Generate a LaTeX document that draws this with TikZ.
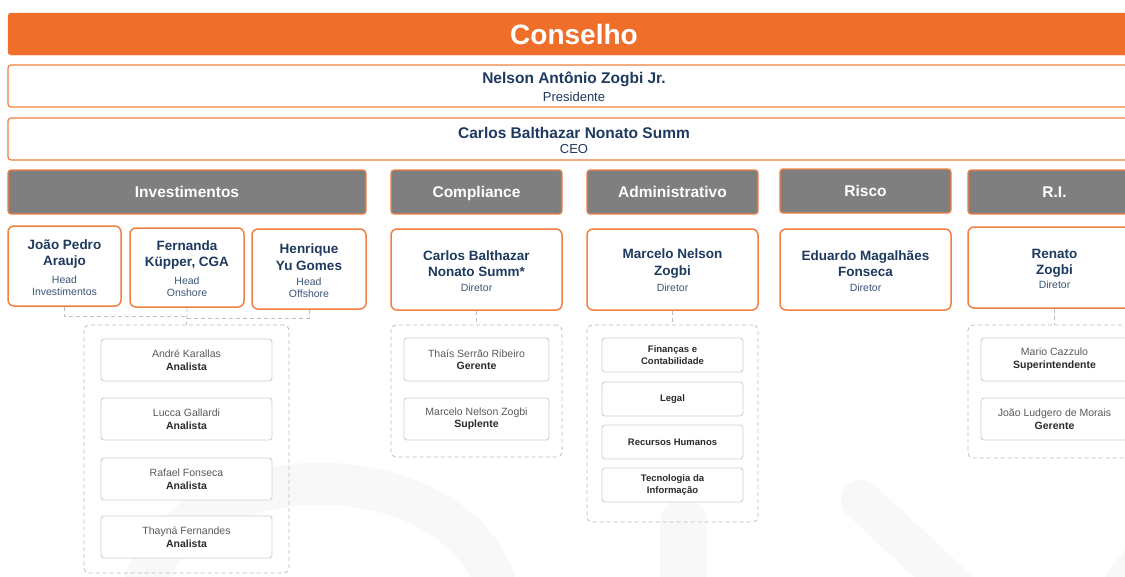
\documentclass[tikz,border=0pt]{standalone}
\usepackage{fontspec}
\setmainfont{Liberation Sans}
\usetikzlibrary{positioning}
\definecolor{boardOrange}{HTML}{EE6E2A}
\definecolor{lineOrange}{HTML}{F28042}
\definecolor{deptGray}{HTML}{7F7F7F}
\definecolor{nameNavy}{HTML}{1E3A5F}
\definecolor{roleBlue}{HTML}{3A5578}
\definecolor{staffGray}{HTML}{5A5A5A}
\definecolor{staffDark}{HTML}{2B2B2B}
\definecolor{dashGray}{HTML}{BDBDBD}
\definecolor{boxGray}{HTML}{CFCFCF}
\definecolor{markGray}{HTML}{F8F8F8}
\newcommand{\fsz}[2]{\fontsize{#1}{#2}\selectfont}
\tikzset{OrgBar/.style={rectangle,rounded corners=3pt,fill=boardOrange,draw=boardOrange,text=white,text depth=0pt,font=\fsz{28}{32}\bfseries}}
\tikzset{TopBox/.style={rectangle,rounded corners=3pt,draw=lineOrange,line width=1.2pt,fill=white}}
\tikzset{TopName/.style={inner sep=0pt,text=nameNavy,font=\fsz{15.5}{18}\bfseries}}
\tikzset{TopRole/.style={inner sep=0pt,text=nameNavy,font=\fsz{13}{15}}}
\tikzset{DeptHead/.style={rectangle,rounded corners=3pt,fill=deptGray,draw=lineOrange,line width=1.2pt,text=white,text depth=0pt,font=\fsz{15.5}{18}\bfseries}}
\tikzset{DirBox/.style={rectangle,rounded corners=6pt,draw=lineOrange,line width=1.5pt,fill=white}}
\tikzset{DirName/.style={inner sep=0pt,align=center,text=nameNavy,font=\fsz{13.5}{16.5}\bfseries}}
\tikzset{DirRole/.style={inner sep=0pt,align=center,text=roleBlue,font=\fsz{10.5}{12}}}
\tikzset{Holder/.style={rectangle,rounded corners=5pt,draw=dashGray,dash pattern=on 4pt off 3pt,line width=0.8pt}}
\tikzset{StaffBox/.style={rectangle,rounded corners=3pt,draw=boxGray,line width=0.9pt,fill=white,align=center,text=staffDark,font=\fsz{10.5}{12.5}}}
\tikzset{AreaBox/.style={StaffBox,font=\fsz{9.5}{12}\bfseries}}
\tikzset{OrgLink/.style={draw=dashGray,dash pattern=on 4pt off 3pt,line width=0.8pt}}
\tikzset{OrgMark/.style={draw=markGray}}

\begin{document}
\begin{tikzpicture}[x=1pt,y=-1pt]
\clip (0,0) rectangle (1125,576);
\fill[white] (0,0) rectangle (1125,576);
% faint logo in the background
\draw[OrgMark,line width=42pt] (140,600) .. controls (170,445) and (470,445) .. (500,600);
\draw[OrgMark,line width=47pt,line cap=round] (683.5,522) -- (683.5,620);
\draw[OrgMark,line width=40pt,line cap=round] (861,500) -- (990,620);
\draw[OrgMark,line width=40pt] (1161,536) -- (1101,614);
% board
\node (board) at (574,34) [OrgBar,minimum width=1132pt,minimum height=42pt] {Conselho};
\node (pres) at (574,86) [TopBox,minimum width=1132pt,minimum height=42pt] {};
\node (presName) at (574,79.5) [TopName] {Nelson Antônio Zogbi Jr.};
\node (presRole) at (574,96.5) [TopRole] {Presidente};
\node (ceo) at (574,139) [TopBox,minimum width=1132pt,minimum height=42pt] {};
\node (ceoName) at (574,132.5) [TopName] {Carlos Balthazar Nonato Summ};
\node (ceoRole) at (574,149) [TopRole] {CEO};
% areas
\node (inv) at (187,192) [DeptHead,minimum width=358pt,minimum height=44pt] {Investimentos};
\node (comp) at (476.5,192) [DeptHead,minimum width=171pt,minimum height=44pt] {Compliance};
\node (adm) at (672.5,192) [DeptHead,minimum width=171pt,minimum height=44pt] {Administrativo};
\node (risk) at (865.5,191) [DeptHead,minimum width=171pt,minimum height=44pt] {Risco};
\node (ri) at (1054.5,192) [DeptHead,minimum width=173pt,minimum height=44pt] {R.I.};
% heads and directors
\node (joao) at (64.5,266) [DirBox,minimum width=113pt,minimum height=80pt] {};
\node (joaoName) at (64.5,254) [DirName] {João Pedro\\Araujo};
\node (joaoRole) at (64.5,286) [DirRole] {Head\\Investimentos};
\node (fern) at (187,267.5) [DirBox,minimum width=114pt,minimum height=79pt] {};
\node (fernName) at (187,255) [DirName] {Fernanda\\Küpper, CGA};
\node (fernRole) at (187,287) [DirRole] {Head\\Onshore};
\node (henr) at (309,269) [DirBox,minimum width=114pt,minimum height=80pt] {};
\node (henrName) at (309,257) [DirName] {Henrique\\Yu Gomes};
\node (henrRole) at (309,288) [DirRole] {Head\\Offshore};
\node (cdir) at (476.5,269.5) [DirBox,minimum width=171pt,minimum height=81pt] {};
\node (cdirName) at (476.5,263.5) [DirName] {Carlos Balthazar\\Nonato Summ*};
\node (cdirRole) at (476.5,288) [DirRole] {Diretor};
\node (mdir) at (672.5,269.5) [DirBox,minimum width=171pt,minimum height=81pt] {};
\node (mdirName) at (672.5,263.5) [DirName] {Marcelo Nelson\\Zogbi};
\node (mdirRole) at (672.5,288) [DirRole] {Diretor};
\node (edir) at (865.5,269.5) [DirBox,minimum width=171pt,minimum height=81pt] {};
\node (edirName) at (865.5,263.5) [DirName] {Eduardo Magalhães\\Fonseca};
\node (edirRole) at (865.5,288) [DirRole] {Diretor};
\node (rdir) at (1054.5,267.5) [DirBox,minimum width=173pt,minimum height=81pt] {};
\node (rdirName) at (1054.5,263.5) [DirName] {Renato\\Zogbi};
\node (rdirRole) at (1054.5,285) [DirRole] {Diretor};
% teams
\node (invTeam) at (186.5,449) [Holder,minimum width=205pt,minimum height=248pt] {};
\node (compTeam) at (476.5,391) [Holder,minimum width=171pt,minimum height=132pt] {};
\node (admTeam) at (672.5,423.5) [Holder,minimum width=171pt,minimum height=197pt] {};
\node (riTeam) at (1054.5,391.5) [Holder,minimum width=173pt,minimum height=133pt] {};
\foreach \who/\yy [count=\i] in {André Karallas/360,Lucca Gallardi/419,Rafael Fonseca/479,Thayná Fernandes/537}
  \node (inv\i) at (186.5,\yy) [StaffBox,minimum width=171pt,minimum height=42pt] {{\color{staffGray}\who}\\\textbf{Analista}};
\node (comp1) at (476.5,359.5) [StaffBox,minimum width=145pt,minimum height=43pt] {{\color{staffGray}Thaís Serrão Ribeiro}\\\textbf{Gerente}};
\node (comp2) at (476.5,419) [StaffBox,minimum width=145pt,minimum height=42pt] {{\color{staffGray}Marcelo Nelson Zogbi}\\\textbf{Suplente}};
\node (adm1) at (672.5,355) [AreaBox,minimum width=141pt,minimum height=34pt] {Finanças e\\Contabilidade};
\node (adm2) at (672.5,399) [AreaBox,minimum width=141pt,minimum height=34pt] {Legal};
\node (adm3) at (672.5,442) [AreaBox,minimum width=141pt,minimum height=34pt] {Recursos Humanos};
\node (adm4) at (672.5,485) [AreaBox,minimum width=141pt,minimum height=34pt] {Tecnologia da\\Informação};
\node (ri1) at (1054.5,359.5) [StaffBox,minimum width=147pt,minimum height=43pt] {{\color{staffGray}Mario Cazzulo}\\\textbf{Superintendente}};
\node (ri2) at (1054.5,419) [StaffBox,minimum width=147pt,minimum height=42pt] {{\color{staffGray}João Ludgero de Morais}\\\textbf{Gerente}};
% dashed links
\coordinate (invJoinA) at (187,316);
\coordinate (invJoinB) at (187,318);
\draw [OrgLink] (joao.south) |- (invJoinA);
\draw [OrgLink] (henr.south) |- (invJoinB);
\draw [OrgLink] (fern.south) -- (invTeam.north);
\draw [OrgLink] (cdir.south) -- (compTeam.north);
\draw [OrgLink] (mdir.south) -- (admTeam.north);
\draw [OrgLink] (rdir.south) -- (riTeam.north);
\end{tikzpicture}
\end{document}
